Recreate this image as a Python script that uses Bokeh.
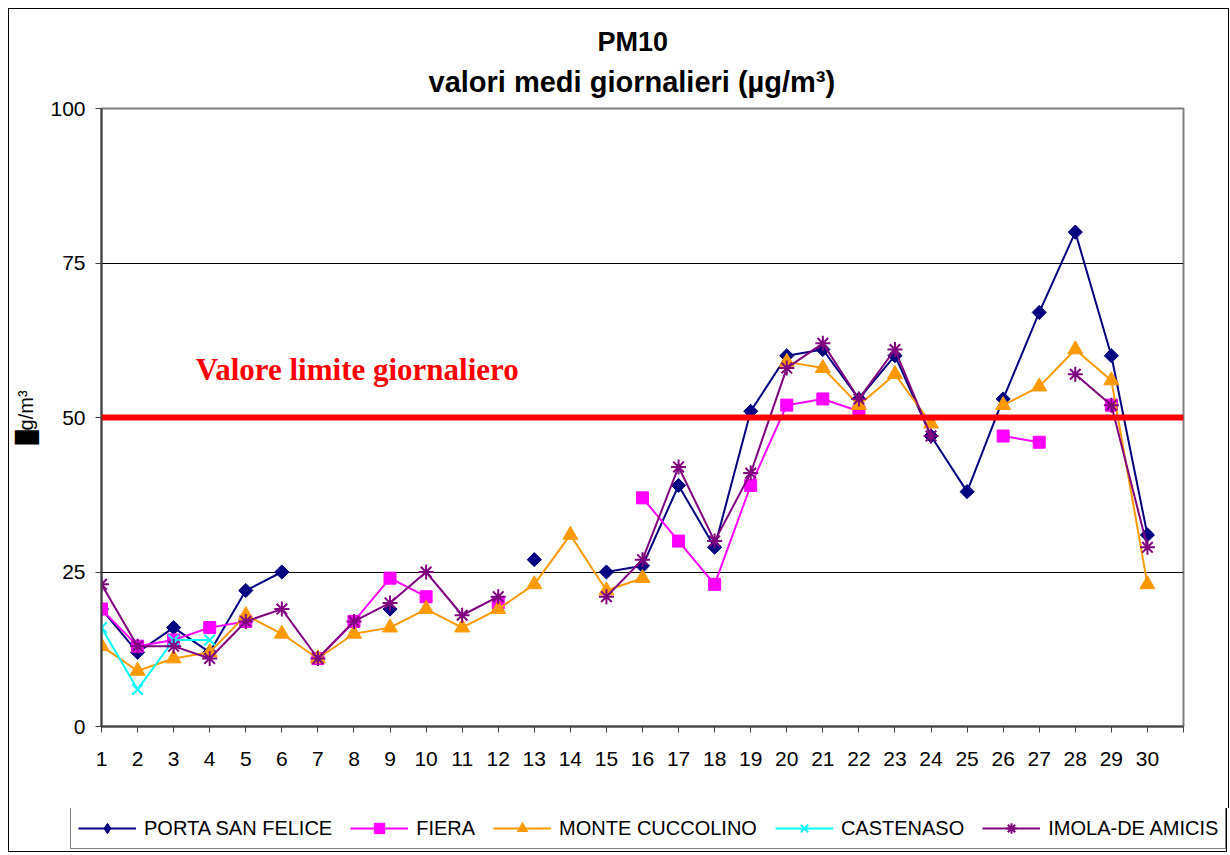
import numpy as np
from bokeh.plotting import figure
from bokeh.models import (ColumnDataSource, Range1d, FixedTicker, Span, Label,
                          Legend, LegendItem, Title)
from bokeh.embed import file_html
from bokeh.resources import INLINE

N = None
days = list(range(1, 31))
porta_san_felice = [19, 12, 16, 12, 22, 25, N, N, 19, N, N, N, 27, N, 25,
                    26, 39, 29, 51, 60, 61, 53, 60, 47, 38, 53, 67, 80, 60, 31]
fiera = [19, 13, 14, 16, 17, N, 11, 17, 24, 21, N, 20, N, N, N,
         37, 30, 23, 39, 52, 53, 51, N, N, N, 47, 46, N, 52, N]
monte_cuccolino = [13, 9, 11, 12, 18, 15, 11, 15, 16, 19, 16, 19, 23, 31, 22,
                   24, N, N, N, 59, 58, 52, 57, 49, N, 52, 55, 61, 56, 23]
castenaso = [16, 6, 14, 14, N, N, N, N, N, N, N, N, N, N, N,
             N, N, N, N, N, N, N, N, N, N, N, N, N, N, N]
imola_de_amicis = [23, 13, 13, 11, 17, 19, 11, 17, 20, 25, 18, 21, N, N, 21,
                   27, 42, 30, 41, 58, 62, 53, 61, 47, N, N, N, 57, 52, 29]

series_names = ["PORTA SAN FELICE", "FIERA", "MONTE CUCCOLINO", "CASTENASO", "IMOLA-DE AMICIS"]
series_values = [porta_san_felice, fiera, monte_cuccolino, castenaso, imola_de_amicis]
limit_value = 50
limit_text = "Valore limite giornaliero"
y_ticks = [0, 25, 50, 75, 100]

colors = ["#000080", "#FF00FF", "#FF9900", "#00FFFF", "#800080"]
markers = ["square", "square", "triangle", "x", "asterisk"]
legend_markers = ["diamond", "square", "triangle", "x", "asterisk"]
angles = [np.pi / 4, 0, 0, 0, 0]
sizes = [10, 12, 15, 15, 15]

FONT = "Liberation Sans"
TOTAL_W = 1219

p = figure(frame_width=1082, frame_height=618,
           x_range=Range1d(1, 31), y_range=Range1d(0, 100),
           output_backend="svg", toolbar_location=None, title=None,
           min_border_left=92, min_border_top=99, min_border_right=45,
           min_border_bottom=82)
p.styles = {"border": "1px solid black", "border-bottom": "none",
            "margin": "8px 0 0 8px"}

p.add_layout(Title(text="valori medi giornalieri (µg/m³)", align="left",
                   text_font=FONT, text_font_size="29px", text_font_style="bold",
                   text_color="black", standoff=22, offset=327), "above")
p.add_layout(Title(text="PM10", align="left",
                   text_font=FONT, text_font_size="27px", text_font_style="bold",
                   text_color="black", standoff=-8, offset=496), "above")

p.outline_line_color = "#808080"
p.outline_line_width = 2

# axes
p.xaxis.ticker = FixedTicker(ticks=list(range(1, 32)))
p.xaxis.major_label_overrides = {31: ""}
p.yaxis.ticker = FixedTicker(ticks=y_ticks)
for ax in (p.xaxis, p.yaxis):
    ax.axis_line_color = "#404040"
    ax.axis_line_width = 2
    ax.major_tick_line_color = "#404040"
    ax.major_tick_out = 6
    ax.major_tick_in = 0
    ax.minor_tick_out = 0
    ax.minor_tick_in = 0
    ax.major_label_text_font = FONT
    ax.major_label_text_font_size = "21px"
    ax.major_label_text_color = "black"
p.xaxis.major_label_standoff = 19
p.yaxis.major_label_standoff = 10
p.yaxis.axis_label = "█g/m³"
p.yaxis.axis_label_text_font = FONT
p.yaxis.axis_label_text_font_size = "20px"
p.yaxis.axis_label_text_font_style = "normal"
p.yaxis.axis_label_text_color = "black"
p.yaxis.axis_label_standoff = 10

p.xgrid.visible = False
p.ygrid.ticker = FixedTicker(ticks=[25, 50, 75])
p.ygrid.grid_line_color = "black"
p.ygrid.grid_line_width = 1

# legend strip: a second root below the chart, so the legend is not clipped
lg = figure(width=TOTAL_W, height=44, x_range=Range1d(-2, -1), y_range=Range1d(-2, -1),
            output_backend="svg", toolbar_location=None, title=None,
            x_axis_type=None, y_axis_type=None,
            min_border_left=0, min_border_right=0, min_border_top=0, min_border_bottom=0)
lg.styles = {"border": "1px solid black", "border-top": "none",
             "margin": "0 0 0 8px"}
lg.outline_line_color = None
lg.xgrid.visible = False
lg.ygrid.visible = False

items = []
for name, vals, c, m, lm, a, s in zip(series_names, series_values, colors, markers,
                                      legend_markers, angles, sizes):
    src = ColumnDataSource(dict(x=days, y=np.array(vals, dtype=float)))
    lw = 2 if m in ("x", "asterisk") else 1
    p.line("x", "y", source=src, line_color=c, line_width=2)
    p.scatter("x", "y", source=src, marker=m, size=s, angle=a,
              fill_color=c, line_color=c, line_width=lw)
    # legend proxies in the strip (same data, outside the strip's visible range)
    l_line = lg.line("x", "y", source=src, line_color=c, line_width=2)
    l_pts = lg.scatter("x", "y", source=src, marker=lm, size=s,
                       fill_color=c, line_color=c, line_width=lw)
    items.append(LegendItem(label=name, renderers=[l_line, l_pts]))

p.add_layout(Span(location=limit_value, dimension="width", line_color="#FF0000",
                  line_width=6))
p.add_layout(Label(x=3.61, y=57.75, text=limit_text, text_font="Liberation Serif",
                   text_font_style="bold", text_font_size="31px", text_color="#FF0000",
                   text_baseline="alphabetic"))

legend = Legend(items=items, orientation="horizontal", location=(61, 3),
                glyph_width=58, glyph_height=26, label_height=26,
                label_standoff=8, spacing=18, padding=7, margin=0,
                label_text_font=FONT, label_text_font_size="20px",
                label_text_color="black", label_text_baseline="middle",
                border_line_color="black", border_line_width=1,
                background_fill_color="white", background_fill_alpha=1)
lg.add_layout(legend, "center")

open("out.html", "w").write(file_html([p, lg], INLINE))
